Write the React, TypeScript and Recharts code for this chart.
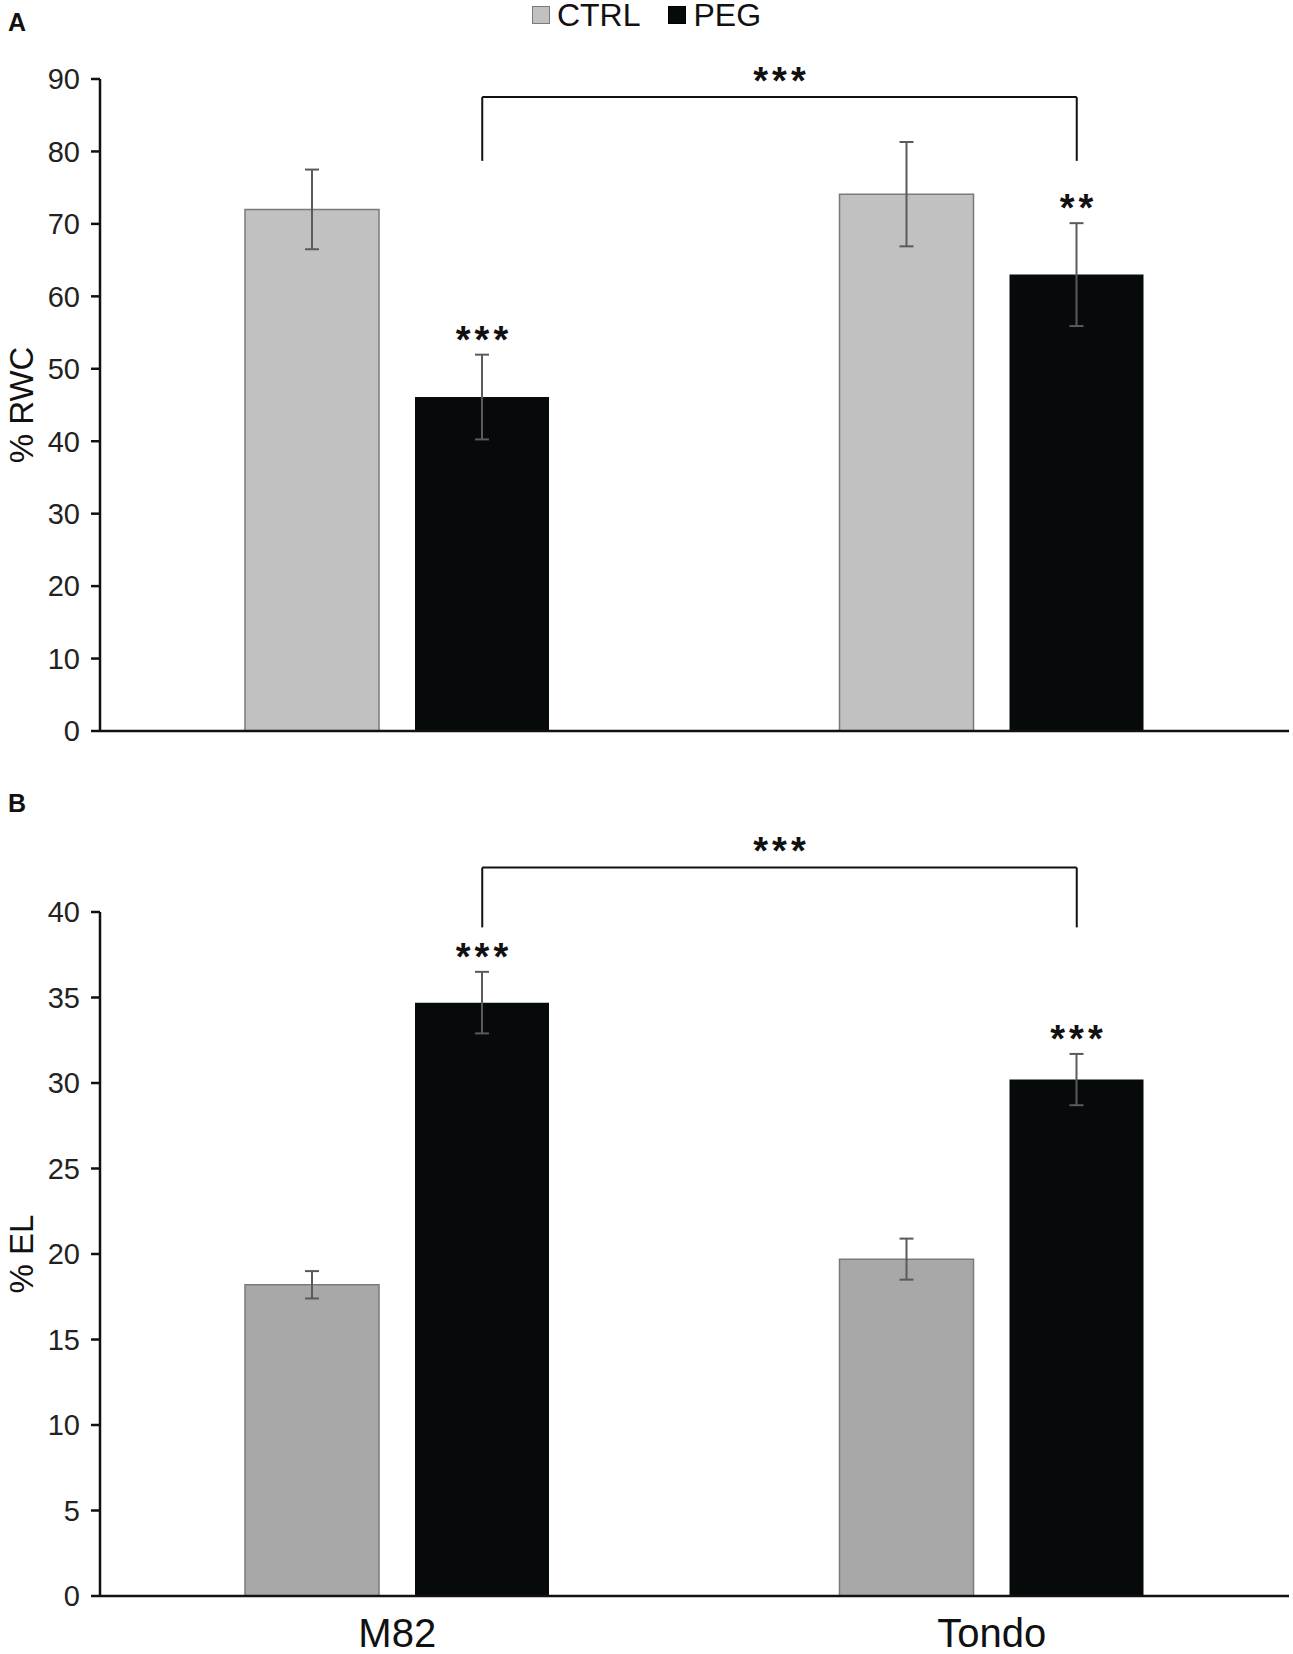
import React from 'react';
import { BarChart, Bar, XAxis, YAxis, ErrorBar, LabelList, Legend, ReferenceLine, ReferenceDot } from 'recharts';

// genotypes
const categories = ['M82', 'Tondo'];

// panel A : % RWC
const rwcCtrl = [72.0, 74.1];
const rwcCtrlErr = [5.5, 7.2];
const rwcPeg = [46.1, 63.0];
const rwcPegErr = [5.85, 7.1];
const rwcSig = ['***', '**'];
const rwcTicks = [0, 10, 20, 30, 40, 50, 60, 70, 80, 90];
const rwcBracket = { top: 87.5, drop: 78.7, labelAt: 90.9, text: '***' };

// panel B : % EL
const elCtrl = [18.2, 19.7];
const elCtrlErr = [0.8, 1.2];
const elPeg = [34.7, 30.2];
const elPegErr = [1.8, 1.5];
const elSig = ['***', '***'];
const elTicks = [0, 5, 10, 15, 20, 25, 30, 35, 40];
const elBracket = { top: 42.6, drop: 39.1, labelAt: 44.1, text: '***' };

const seriesNames = ['CTRL', 'PEG'];

const W = 1293;
const AXIS_W = 100;
const RIGHT = 4;
const PLOT_W = W - AXIS_W - RIGHT;
const BAND = PLOT_W / categories.length;
const BAR_SIZE = 134;
const BAR_GAP = 36;
// centre of the PEG bar, as a fraction of the plot width (hidden 0..1 axis)
const pegPos = (i: number) => (i + 0.5 + (BAR_SIZE + BAR_GAP) / 2 / BAND) / categories.length;

const FONT = 'Arial, "Liberation Sans", Helvetica, sans-serif';
const PEG_COLOR = '#060a0b';
const ERR_COLOR = '#5a5a5a';

const build = (ctrl: number[], ctrlErr: number[], peg: number[], pegErr: number[]) =>
  categories.map((name, i) => ({ name, ctrl: ctrl[i], ctrlErr: ctrlErr[i], peg: peg[i], pegErr: pegErr[i] }));

const YLabel = ({ viewBox, text }: any) => {
  const cx = 21;
  const cy = viewBox.y + viewBox.height / 2;
  return (
    <text x={cx} y={cy} transform={`rotate(-90, ${cx}, ${cy})`} textAnchor="middle" dominantBaseline="central"
      fontSize={33} fontFamily={FONT} fill="#111">
      {text}
    </text>
  );
};

// asterisks sit high in the em box, so shift the baseline down
const Stars = ({ x, y, text }: { x: number; y: number; text: string }) => (
  <text x={x + 2} y={y + 22} textAnchor="middle" fontSize={38} fontWeight="bold" fontFamily={FONT} letterSpacing={4} fill="#111">
    {text}
  </text>
);

const renderLegend = () => (
  <div style={{ height: 79, display: 'flex', justifyContent: 'center', alignItems: 'flex-start', fontFamily: FONT }}>
    {seriesNames.map((n, i) => (
      <div key={n} style={{ display: 'flex', alignItems: 'center', marginLeft: i ? 28 : 0, height: 30 }}>
        <span style={{
          width: 16, height: 16, display: 'inline-block', marginRight: 7,
          background: i ? PEG_COLOR : '#c1c1c1', border: i ? '1px solid #000' : '1.5px solid #7a7a7a',
        }} />
        <span style={{ fontSize: 32, color: '#111', lineHeight: '30px' }}>{n}</span>
      </div>
    ))}
  </div>
);

interface PanelProps {
  data: any[];
  ticks: number[];
  ylabel: string;
  sig: string[];
  bracket: { top: number; drop: number; labelAt: number; text: string };
  ctrlColor: string;
  height: number;
  marginTop: number;
  showCategories: boolean;
  legend: boolean;
}

function Panel({ data, ticks, ylabel, sig, bracket, ctrlColor, height, marginTop, showCategories, legend }: PanelProps) {
  const domainMax = ticks[ticks.length - 1];
  const midPos = (pegPos(0) + pegPos(1)) / 2;
  return (
    <BarChart width={W} height={height} data={data} margin={{ top: marginTop, right: RIGHT, left: 0, bottom: 0 }}
      barSize={BAR_SIZE} barGap={BAR_GAP}>
      {legend && <Legend verticalAlign="top" align="center" content={renderLegend} wrapperStyle={{ top: 0, left: 0, width: W }} />}
      <XAxis xAxisId="cat" dataKey="name" type="category" height={showCategories ? 58 : 29}
        axisLine={{ stroke: '#111', strokeWidth: 2.5 }} tickLine={false} tickSize={0} tickMargin={23}
        tick={showCategories ? { fontSize: 40, fontFamily: FONT, fill: '#111' } : false} />
      <XAxis xAxisId="pos" type="number" domain={[0, 1]} hide allowDataOverflow />
      <YAxis type="number" domain={[0, domainMax]} ticks={ticks} interval={0} width={AXIS_W}
        axisLine={{ stroke: '#111', strokeWidth: 2.5 }} tickLine={{ stroke: '#111', strokeWidth: 2.5 }}
        tickSize={9} tickMargin={11} tick={{ fontSize: 29, fontFamily: FONT, fill: '#222' }}
        label={<YLabel text={ylabel} />} />
      <Bar xAxisId="cat" dataKey="ctrl" fill={ctrlColor} stroke="#7a7a7a" strokeWidth={1.5} isAnimationActive={false}>
        <ErrorBar dataKey="ctrlErr" width={7} stroke={ERR_COLOR} strokeWidth={2} direction="y" />
      </Bar>
      <Bar xAxisId="cat" dataKey="peg" fill={PEG_COLOR} isAnimationActive={false}>
        <ErrorBar dataKey="pegErr" width={7} stroke={ERR_COLOR} strokeWidth={2} direction="y" />
        <LabelList dataKey="peg" content={(p: any) => {
          const pxPerUnit = p.height / p.value;
          const errTop = p.y - data[p.index].pegErr * pxPerUnit;
          return <Stars key={`s${p.index}`} x={p.x + p.width / 2} y={errTop - 24} text={sig[p.index]} />;
        }} />
      </Bar>
      <ReferenceLine xAxisId="pos" ifOverflow="visible" stroke="#111" strokeWidth={2}
        segment={[{ x: pegPos(0), y: bracket.top }, { x: pegPos(1), y: bracket.top }]} />
      <ReferenceLine xAxisId="pos" ifOverflow="visible" stroke="#111" strokeWidth={2}
        segment={[{ x: pegPos(0), y: bracket.top }, { x: pegPos(0), y: bracket.drop }]} />
      <ReferenceLine xAxisId="pos" ifOverflow="visible" stroke="#111" strokeWidth={2}
        segment={[{ x: pegPos(1), y: bracket.top }, { x: pegPos(1), y: bracket.drop }]} />
      <ReferenceDot xAxisId="pos" x={midPos} y={bracket.labelAt} r={1} fill="none" stroke="none" ifOverflow="visible"
        label={(p: any) => <Stars x={p.viewBox.x + (p.viewBox.width || 0) / 2} y={p.viewBox.y + (p.viewBox.height || 0) / 2} text={bracket.text} />} />
    </BarChart>
  );
}

export default function App() {
  const rwcData = build(rwcCtrl, rwcCtrlErr, rwcPeg, rwcPegErr);
  const elData = build(elCtrl, elCtrlErr, elPeg, elPegErr);
  return (
    <div style={{ position: 'absolute', top: 0, left: 0, width: W, height: 1654, background: '#fff', fontFamily: FONT }}>
      <div style={{ position: 'absolute', top: 8, left: 8, fontSize: 25, fontWeight: 'bold', color: '#111' }}>A</div>
      <div style={{ position: 'absolute', top: 789, left: 8, fontSize: 25, fontWeight: 'bold', color: '#111' }}>B</div>
      <div style={{ position: 'absolute', top: 0, left: 0 }}>
        <Panel data={rwcData} ticks={rwcTicks} ylabel="% RWC" sig={rwcSig} bracket={rwcBracket} ctrlColor="#c1c1c1"
          height={760} marginTop={0} showCategories={false} legend />
      </div>
      <div style={{ position: 'absolute', top: 780, left: 0 }}>
        <Panel data={elData} ticks={elTicks} ylabel="% EL" sig={elSig} bracket={elBracket} ctrlColor="#a8a8a8"
          height={874} marginTop={132} showCategories legend={false} />
      </div>
    </div>
  );
}
